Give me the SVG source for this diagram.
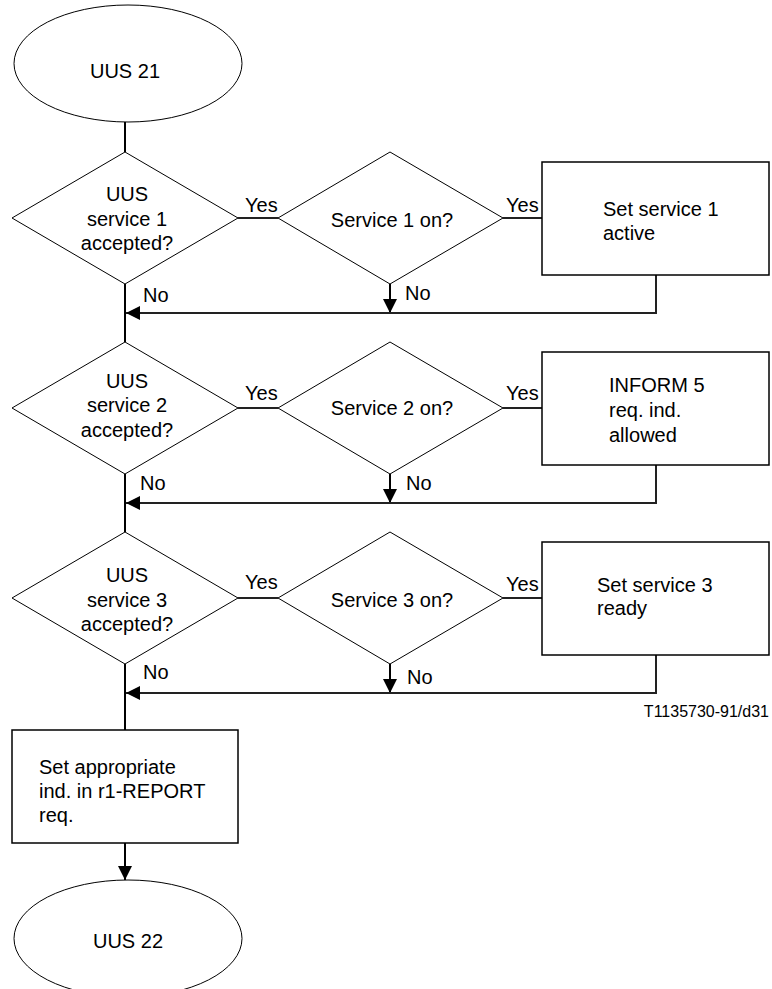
<svg xmlns="http://www.w3.org/2000/svg" width="772" height="989" viewBox="0 0 772 989">
<style>
text{font-family:"Liberation Sans",Arial,sans-serif;font-size:20px;fill:#000}
.mid{text-anchor:middle}
.shape{fill:#fff;stroke:#000;stroke-width:1}
.box{fill:#fff;stroke:#000;stroke-width:1.5}
.conn{fill:none;stroke:#000;stroke-width:2}
.ret{fill:none;stroke:#222;stroke-width:2}
.small{font-size:16px}
</style>
<defs>
<marker id="arr" viewBox="0 0 14 14" refX="14" refY="7" markerWidth="14" markerHeight="14" markerUnits="userSpaceOnUse" orient="auto">
<path d="M0,0 L14,7 L0,14 z" fill="#000"/>
</marker>
</defs>
<rect width="772" height="989" fill="#fff"/>
<g id="connectors">
<line class="conn" x1="125" y1="122" x2="125" y2="152"/>
<line class="conn" x1="125" y1="284" x2="125" y2="342"/>
<line class="conn" x1="125" y1="474" x2="125" y2="532"/>
<line class="conn" x1="125" y1="664" x2="125" y2="730"/>
<line class="conn" x1="125" y1="843" x2="125" y2="880" marker-end="url(#arr)"/>
<line class="ret" x1="238" y1="218" x2="278" y2="218"/>
<line class="ret" x1="503" y1="218" x2="542" y2="218"/>
<line class="conn" x1="390" y1="284" x2="390" y2="313" marker-end="url(#arr)"/>
<polyline class="ret" points="656,275 656,313 126,313" marker-end="url(#arr)"/>
<line class="ret" x1="238" y1="408" x2="278" y2="408"/>
<line class="ret" x1="503" y1="408" x2="542" y2="408"/>
<line class="conn" x1="390" y1="474" x2="390" y2="503" marker-end="url(#arr)"/>
<polyline class="ret" points="656,465 656,503 126,503" marker-end="url(#arr)"/>
<line class="ret" x1="238" y1="598" x2="278" y2="598"/>
<line class="ret" x1="503" y1="598" x2="542" y2="598"/>
<line class="conn" x1="390" y1="664" x2="390" y2="693" marker-end="url(#arr)"/>
<polyline class="ret" points="656,655 656,693 126,693" marker-end="url(#arr)"/>
<text x="245" y="212">Yes</text>
<text x="506" y="212">Yes</text>
<text x="143" y="302">No</text>
<text x="405" y="300">No</text>
<text x="245" y="400">Yes</text>
<text x="506" y="400">Yes</text>
<text x="140" y="490">No</text>
<text x="406" y="490">No</text>
<text x="245" y="589">Yes</text>
<text x="506" y="591">Yes</text>
<text x="143" y="679">No</text>
<text x="407" y="684">No</text>
</g>
<g id="start">
<ellipse class="shape" cx="128" cy="63.5" rx="114" ry="58.5"/>
<text class="mid" x="125" y="78">UUS 21</text>
</g>
<g id="q1">
<polygon class="shape" points="125,152 238,218 125,284 12,218"/>
<text class="mid" x="127" y="201">UUS</text>
<text class="mid" x="127" y="226">service 1</text>
<text class="mid" x="127" y="250">accepted?</text>
</g>
<g id="on1">
<polygon class="shape" points="390,152 503,218 390,284 278,218"/>
<text class="mid" x="392" y="227">Service 1 on?</text>
</g>
<g id="act1">
<rect class="box" x="542" y="162" width="227" height="113"/>
<text x="603" y="216">Set service 1</text>
<text x="603" y="240">active</text>
</g>
<g id="q2">
<polygon class="shape" points="125,342 238,408 125,474 12,408"/>
<text class="mid" x="127" y="388">UUS</text>
<text class="mid" x="127" y="412">service 2</text>
<text class="mid" x="127" y="437">accepted?</text>
</g>
<g id="on2">
<polygon class="shape" points="390,342 503,408 390,474 278,408"/>
<text class="mid" x="392" y="415">Service 2 on?</text>
</g>
<g id="act2">
<rect class="box" x="542" y="352" width="227" height="113"/>
<text x="609" y="392">INFORM 5</text>
<text x="609" y="417">req. ind.</text>
<text x="609" y="442">allowed</text>
</g>
<g id="q3">
<polygon class="shape" points="125,532 238,598 125,664 12,598"/>
<text class="mid" x="127" y="582">UUS</text>
<text class="mid" x="127" y="607">service 3</text>
<text class="mid" x="127" y="631">accepted?</text>
</g>
<g id="on3">
<polygon class="shape" points="390,532 503,598 390,664 278,598"/>
<text class="mid" x="392" y="607">Service 3 on?</text>
</g>
<g id="act3">
<rect class="box" x="542" y="542" width="227" height="113"/>
<text x="597" y="592">Set service 3</text>
<text x="597" y="615"> ready</text>
</g>
<g id="label">
<text class="small" x="769" y="717" text-anchor="end">T1135730-91/d31</text>
</g>
<g id="report">
<rect class="box" x="12" y="730" width="226" height="113"/>
<text x="39" y="774">Set appropriate</text>
<text x="39" y="798">ind. in r1-REPORT</text>
<text x="39" y="822">req.</text>
</g>
<g id="end">
<ellipse class="shape" cx="128" cy="938.5" rx="114" ry="58.5"/>
<text class="mid" x="128" y="948">UUS 22</text>
</g>
</svg>
